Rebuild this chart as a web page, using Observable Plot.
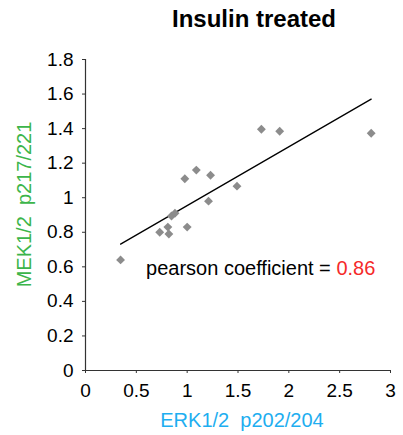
<!DOCTYPE html>
<html>
<head>
<meta charset="utf-8">
<script src="https://cdn.jsdelivr.net/npm/d3@7"></script>
<script src="https://cdn.jsdelivr.net/npm/@observablehq/plot@0.6"></script>
<style>
  html, body { margin: 0; padding: 0; background: #fff; }
  #wrap { width: 403px; height: 435px; font-family: "Liberation Sans", Arial, sans-serif; }
  #title { height: 38px; line-height: 38px; font-size: 24px; font-weight: bold; padding-left: 172px; color: #000; }
  svg { display: block; }
</style>
</head>
<body>
<div id="wrap">
  <div id="title">Insulin treated</div>
  <div id="chart"></div>
</div>
<script>
// Data
const erk = [0.345, 0.73, 0.81, 0.82, 0.846, 0.88, 1.00, 0.977, 1.09, 1.23, 1.21, 1.49, 1.73, 1.91, 2.81];
const mek = [0.64, 0.80, 0.83, 0.79, 0.894, 0.91, 0.83, 1.11, 1.16, 1.13, 0.98, 1.067, 1.396, 1.385, 1.373];
const xTicks = [0, 0.5, 1, 1.5, 2, 2.5, 3];
const yTicks = [0, 0.2, 0.4, 0.6, 0.8, 1, 1.2, 1.4, 1.6, 1.8];
const xLabel = "ERK1/2  p202/204";
const yLabel = "MEK1/2  p217/221";
const pearsonLabel = "pearson coefficient =";
const pearsonValue = "0.86";
const annotX = [2.468];
const annotY = [0.59];

const data = erk.map((x, i) => ({x, y: mek[i]}));
const font = "'Liberation Sans', Arial, sans-serif";

const chart = Plot.plot({
  width: 403,
  height: 397,
  marginTop: 21,
  marginBottom: 65,
  marginLeft: 85,
  marginRight: 13,
  style: {fontFamily: font, fontSize: "19px", color: "#000", background: "#fff", overflow: "visible"},
  x: {domain: [0, 3]},
  y: {domain: [0, 1.8]},
  marks: [
    Plot.axisX({ticks: xTicks, tickSize: 3, tickPadding: 10, tickFormat: d => String(d), label: null, fontSize: 19, stroke: "#333"}),
    Plot.axisY({ticks: yTicks, tickSize: 3, tickPadding: 9, tickFormat: d => String(d), label: null, fontSize: 19, stroke: "#333"}),
    Plot.ruleX([0], {stroke: "#333", strokeWidth: 1.2}),
    Plot.ruleY([0], {stroke: "#333", strokeWidth: 1.2}),
    Plot.linearRegressionY(data, {x: "x", y: "y", ci: 0, stroke: "#000", strokeWidth: 1.3}),
    Plot.dot(data, {x: "x", y: "y", symbol: "diamond2", r: 4, fill: "#8c8c8c", stroke: "none"}),
    Plot.text([pearsonLabel], {x: () => annotX[0], y: () => annotY[0], textAnchor: "end", dx: -5.6, fontSize: 20, fill: "#000"}),
    Plot.text([pearsonValue], {x: () => annotX[0], y: () => annotY[0], textAnchor: "start", fontSize: 20, fill: "#f52a2a"}),
    Plot.text([xLabel], {frameAnchor: "bottom", textAnchor: "middle", lineAnchor: "middle", dx: 4, dy: 50, fontSize: 20, fill: "#1eaef0"}),
    Plot.text([yLabel], {frameAnchor: "left", textAnchor: "middle", lineAnchor: "middle", rotate: -90, dx: -61, dy: -10.5, fontSize: 20, fill: "#3cb54a"})
  ]
});
document.getElementById("chart").appendChild(chart);
</script>
</body>
</html>
